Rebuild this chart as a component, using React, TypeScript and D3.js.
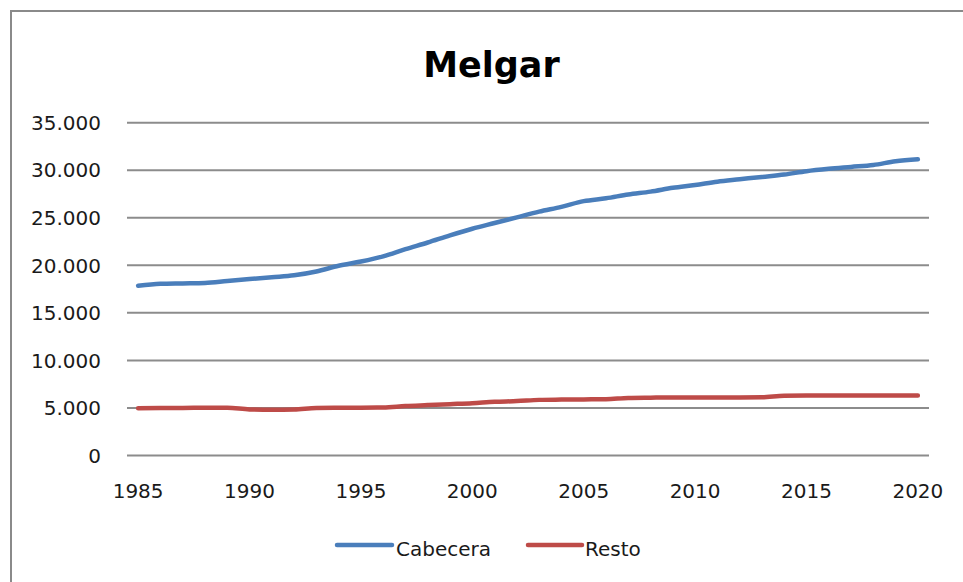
import React from "react";
import * as d3 from "d3";

const years: number[] = [
  1985, 1986, 1987, 1988, 1989, 1990, 1991, 1992, 1993, 1994, 1995, 1996,
  1997, 1998, 1999, 2000, 2001, 2002, 2003, 2004, 2005, 2006, 2007, 2008,
  2009, 2010, 2011, 2012, 2013, 2014, 2015, 2016, 2017, 2018, 2019, 2020,
];

const cabecera: number[] = [
  17850, 18050, 18100, 18150, 18350, 18550, 18750, 18950, 19350, 19950, 20400, 20950,
  21700, 22400, 23150, 23850, 24450, 25050, 25650, 26150, 26750, 27050, 27450, 27750,
  28150, 28450, 28800, 29050, 29300, 29550, 29900, 30150, 30350, 30550, 30950, 31150,
];

const resto: number[] = [
  4980, 5000, 5000, 5020, 5020, 4850, 4820, 4850, 5000, 5020, 5030, 5050,
  5200, 5300, 5400, 5500, 5650, 5720, 5850, 5880, 5900, 5920, 6050, 6080,
  6100, 6100, 6100, 6100, 6120, 6280, 6300, 6300, 6300, 6300, 6300, 6300,
];

const yTicks: number[] = [0, 5000, 10000, 15000, 20000, 25000, 30000, 35000];
const xTickYears: number[] = [1985, 1990, 1995, 2000, 2005, 2010, 2015, 2020];

const seriesNames = ["Cabecera", "Resto"];
const seriesColors = ["#4a7ebb", "#be4b48"];

const W = 963;
const H = 582;
const plotLeft = 127;
const plotRight = 929;
const plotTop = 122.7;
const plotBottom = 455.5;
const FONT = "'DejaVu Sans', sans-serif";

const fmt = (v: number) => {
  const s = d3.format(",")(v);
  return s.replace(/,/g, ".");
};

export default function App() {
  const x = d3
    .scalePoint<number>()
    .domain(years)
    .range([plotLeft, plotRight])
    .padding(0.5);
  const y = d3.scaleLinear().domain([0, 35000]).range([plotBottom, plotTop]);

  const line = d3
    .line<number>()
    .x((_, i) => x(years[i]) as number)
    .y((d) => y(d))
    .curve(d3.curveMonotoneX);

  const series = [cabecera, resto];

  return (
    <svg
      width={W}
      height={H}
      style={{ position: "fixed", left: 0, top: 0, background: "#fff" }}
    >
      <rect x={0} y={0} width={W} height={H} fill="#fff" />
      <rect
        x={11}
        y={11}
        width={1000}
        height={1000}
        fill="#fff"
        stroke="#8a8a8a"
        strokeWidth={2}
      />
      <text
        x={491.5}
        y={77}
        textAnchor="middle"
        fontFamily={FONT}
        fontWeight="bold"
        fontSize={35}
        fill="#000"
      >
        Melgar
      </text>
      {yTicks.map((t) => (
        <g key={t}>
          <line
            x1={plotLeft}
            x2={plotRight}
            y1={y(t)}
            y2={y(t)}
            stroke="#8c8c8c"
            strokeWidth={2}
          />
          <text
            x={101}
            y={y(t)}
            dy="0.36em"
            textAnchor="end"
            fontFamily={FONT}
            fontSize={20}
            fill="#1a1a1a"
          >
            {fmt(t)}
          </text>
        </g>
      ))}
      {xTickYears.map((yr) => (
        <text
          key={yr}
          x={x(yr) as number}
          y={498}
          textAnchor="middle"
          fontFamily={FONT}
          fontSize={20}
          fill="#1a1a1a"
        >
          {yr}
        </text>
      ))}
      {series.map((s, i) => (
        <path
          key={seriesNames[i]}
          d={line(s) || ""}
          fill="none"
          stroke={seriesColors[i]}
          strokeWidth={4.5}
          strokeLinecap="round"
          strokeLinejoin="round"
        />
      ))}
      <g>
        <line x1={337} x2={392} y1={545} y2={545} stroke={seriesColors[0]} strokeWidth={4.5} strokeLinecap="round" />
        <text x={396} y={549} dy="0.36em" fontFamily={FONT} fontSize={20} fill="#1a1a1a">
          {seriesNames[0]}
        </text>
        <line x1={528} x2={582} y1={545} y2={545} stroke={seriesColors[1]} strokeWidth={4.5} strokeLinecap="round" />
        <text x={585} y={549} dy="0.36em" fontFamily={FONT} fontSize={20} fill="#1a1a1a">
          {seriesNames[1]}
        </text>
      </g>
    </svg>
  );
}
